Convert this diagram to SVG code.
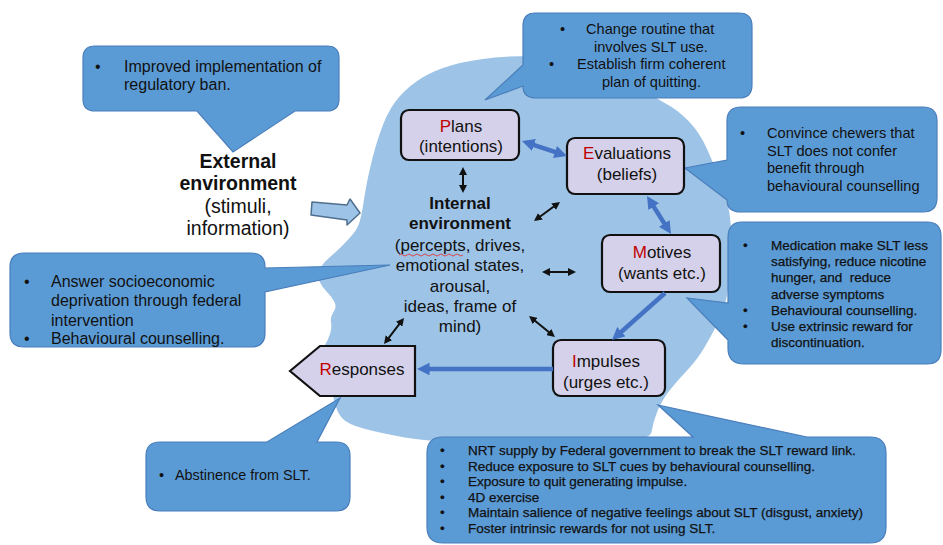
<svg xmlns="http://www.w3.org/2000/svg" width="943" height="545" viewBox="0 0 943 545">
<style>
text{font-family:"Liberation Sans",Arial,sans-serif;fill:#111}
.head{fill:#9DC3E6}
.co{fill:#5B9BD5;stroke:#4A7EBB;stroke-width:1.2}
.node{fill:#D5D1EA;stroke:#111;stroke-width:2.2}
.nt{font-size:17px;text-anchor:middle}
.r{fill:#C00000}
.c16{font-size:16px}
.c146{font-size:14.6px}
.c135{font-size:13.5px;stroke:#111;stroke-width:0.25}
.c144{font-size:14.4px}
.blue{stroke:#4472C4;stroke-width:4.5;fill:none}
.blk{stroke:#111;stroke-width:2;fill:none}
</style>
<defs>
<marker id="bh" viewBox="0 0 10 10" refX="3" refY="5" markerWidth="2.8" markerHeight="2.8" orient="auto-start-reverse"><path d="M0,0 L10,5 L0,10 z" fill="#4472C4"/></marker>
<marker id="kh" viewBox="0 0 10 10" refX="3" refY="5" markerWidth="4" markerHeight="4" orient="auto-start-reverse"><path d="M0,0 L10,5 L0,10 z" fill="#111"/></marker>
</defs>
<rect width="943" height="545" fill="#fff"/>
<g id="head">
<path class="head" d="M360,220.5 Q362,213 364.5,196.5 Q367,180 372,160 Q377,140 383.5,123.5 Q390,107 400,96 Q410,85 422.5,77.5 Q435,70 452.5,65 Q470,60 495,57.5 Q520,55 550,57.5 Q580,60 605,70 Q630,80 642.5,89 Q655,98 666.5,104 Q678,110 689,121.5 Q700,133 707.5,150 Q715,167 721,182 Q727,197 729.5,213.5 Q732,230 731.5,248.5 Q731,267 728.5,286 Q726,305 719.5,319 Q713,333 705,346.5 Q697,360 687,370.5 Q677,381 669.5,390.5 Q662,400 657.5,411 Q653,422 651.5,432 Q650,442 605,443 Q560,444 495,443 Q430,442 405,437.5 Q380,433 363.5,428.5 Q347,424 342,418 Q337,412 335.5,405 Q334,398 329.5,386.5 Q325,375 323.5,362.5 Q322,350 325,345 Q328,340 330,334 Q332,328 331,322.5 Q330,317 333.5,312 Q337,307 334.5,302 Q332,297 327,292 Q322,287 319,280.5 Q316,274 320,268 Q324,262 330,257 Q336,252 342,246 Q348,240 353,234 Q358,228 360,220.5 Z"/>
</g>
<g id="callout-regulatory">
<path class="co" d="M95,46 H327 Q339,46 339,58 V99 Q339,111 327,111 H295 L233,152 L197,111 H95 Q83,111 83,99 V58 Q83,46 95,46 Z"/>
<text class="c16"><tspan x="95" y="72">•</tspan><tspan x="124" y="72">Improved implementation of</tspan><tspan x="124" y="90">regulatory ban.</tspan></text>
</g>
<g id="callout-plans">
<path class="co" d="M535,13 H739 Q752,13 752,26 V85 Q752,98 739,98 H536 Q523,98 523,86 L485,100 L523,65 V26 Q523,13 535,13 Z"/>
<text class="c146"><tspan x="560" y="34">•</tspan><tspan x="586" y="34">Change routine that</tspan><tspan x="594" y="52">involves SLT use.</tspan><tspan x="549" y="69">•</tspan><tspan x="577" y="69">Establish firm coherent</tspan><tspan x="602" y="87">plan of quitting.</tspan></text>
</g>
<g id="callout-evaluations">
<path class="co" d="M741,107 H923 Q937,107 937,121 V198 Q937,212 923,212 H741 Q727,212 727,200 L685,168 L727,160 V121 Q727,107 741,107 Z"/>
<text class="c146"><tspan x="740" y="138">•</tspan><tspan x="767" y="138">Convince chewers that</tspan><tspan x="767" y="156">SLT does not confer</tspan><tspan x="767" y="173">benefit through</tspan><tspan x="767" y="191">behavioural counselling</tspan></text>
</g>
<g id="callout-motives">
<path class="co" d="M742,222 H927 Q941,222 941,236 V350 Q941,364 927,364 H744 Q728,364 728,348 V340 L687,298 L728,303 V238 Q728,222 742,222 Z"/>
<text class="c135" style="white-space:pre"><tspan x="743" y="250">•</tspan><tspan x="771" y="250">Medication make SLT less</tspan><tspan x="771" y="266">satisfying, reduce nicotine</tspan><tspan x="771" y="282">hunger, and  reduce</tspan><tspan x="771" y="298.5">adverse symptoms</tspan><tspan x="743" y="315">•</tspan><tspan x="771" y="315">Behavioural counselling.</tspan><tspan x="743" y="331">•</tspan><tspan x="771" y="331">Use extrinsic reward for</tspan><tspan x="771" y="347">discontinuation.</tspan></text>
</g>
<g id="callout-internal">
<path class="co" d="M24,253 H251 Q265,253 265,267 V268 L390,265 L265,292 V333 Q265,347 251,347 H24 Q10,347 10,333 V267 Q10,253 24,253 Z"/>
<text class="c16"><tspan x="24" y="287">•</tspan><tspan x="51" y="287">Answer socioeconomic</tspan><tspan x="51" y="306">deprivation through federal</tspan><tspan x="51" y="326">intervention</tspan><tspan x="24" y="344">•</tspan><tspan x="51" y="344">Behavioural counselling.</tspan></text>
</g>
<g id="callout-responses">
<path class="co" d="M160,442 H267 L340,398 L317,442 H336 Q350,442 350,456 V497 Q350,511 336,511 H160 Q146,511 146,497 V456 Q146,442 160,442 Z"/>
<text class="c144"><tspan x="159" y="480">•</tspan><tspan x="175" y="480">Abstinence from SLT.</tspan></text>
</g>
<g id="callout-impulses">
<path class="co" d="M443,437 H693 L658,405 L807,437 H870 Q886,437 886,453 V527 Q886,543 870,543 H443 Q427,543 427,527 V453 Q427,437 443,437 Z"/>
<text class="c135"><tspan x="440" y="455">•</tspan><tspan x="468" y="455">NRT supply by Federal government to break the SLT reward link.</tspan><tspan x="440" y="470.5">•</tspan><tspan x="468" y="470.5">Reduce exposure to SLT cues by behavioural counselling.</tspan><tspan x="440" y="486">•</tspan><tspan x="468" y="486">Exposure to quit generating impulse.</tspan><tspan x="440" y="502">•</tspan><tspan x="468" y="502">4D exercise</tspan><tspan x="440" y="517">•</tspan><tspan x="468" y="517">Maintain salience of negative feelings about SLT (disgust, anxiety)</tspan><tspan x="440" y="533">•</tspan><tspan x="468" y="533">Foster intrinsic rewards for not using SLT.</tspan></text>
</g>
<g id="external-environment">
<polygon points="312,202 347,205 350,199 360,213 347,225 347,220 311,215" fill="#9DC3E6" stroke="#4F6F8F" stroke-width="1.5" stroke-linejoin="round"/>
<text style="font-size:19.5px;text-anchor:middle"><tspan x="238" y="168" font-weight="bold">External</tspan><tspan x="238" y="190" font-weight="bold">environment</tspan><tspan x="238" y="213">(stimuli,</tspan><tspan x="238" y="235">information)</tspan></text>
</g>
<g id="internal-environment">
<text style="font-size:17px;text-anchor:middle"><tspan x="460" y="209" font-weight="bold">Internal</tspan><tspan x="460" y="229" font-weight="bold">environment</tspan><tspan x="460" y="251">(percepts, drives,</tspan><tspan x="460" y="271">emotional states,</tspan><tspan x="460" y="291.5">arousal,</tspan><tspan x="460" y="312">ideas, frame of</tspan><tspan x="460" y="332">mind)</tspan></text>
<path d="M399,255 q2,-2 4,0 t4,0 t4,0 t4,0 t4,0 t4,0 t4,0 t4,0 t4,0 t4,0 t4,0 t4,0 t4,0 t4,0 t4,0 t4,0" fill="none" stroke="#E03A3A" stroke-width="0.9"/>
</g>
<g id="plans">
<rect class="node" x="401" y="110" width="118" height="50" rx="8"/>
<text class="nt"><tspan x="461" y="132"><tspan class="r">P</tspan>lans</tspan><tspan x="461" y="152">(intentions)</tspan></text>
</g>
<g id="evaluations">
<rect class="node" x="567" y="138" width="117" height="56" rx="8"/>
<text class="nt"><tspan x="627" y="159"><tspan class="r">E</tspan>valuations</tspan><tspan x="627" y="180">(beliefs)</tspan></text>
</g>
<g id="motives">
<rect class="node" x="602" y="235" width="118" height="57" rx="8"/>
<text class="nt"><tspan x="662" y="258"><tspan class="r">M</tspan>otives</tspan><tspan x="662" y="279">(wants etc.)</tspan></text>
</g>
<g id="impulses">
<rect class="node" x="553" y="340" width="112" height="56" rx="8"/>
<text class="nt"><tspan x="606" y="367"><tspan class="r">I</tspan>mpulses</tspan><tspan x="606" y="388">(urges etc.)</tspan></text>
</g>
<g id="responses">
<polygon class="node" points="290,371 320,346 415,346 415,396 320,396"/>
<text class="nt" x="362" y="375"><tspan class="r">R</tspan>esponses</text>
</g>
<g id="connectors">
<line class="blue" x1="530.4" y1="143.8" x2="558.6" y2="153.2" marker-start="url(#bh)" marker-end="url(#bh)"/>
<line class="blue" x1="651.7" y1="203.4" x2="666.3" y2="226.6" marker-start="url(#bh)" marker-end="url(#bh)"/>
<line class="blue" x1="665" y1="293" x2="618.6" y2="334.2" marker-end="url(#bh)"/>
<line class="blue" x1="553" y1="369" x2="425.8" y2="369" marker-end="url(#bh)"/>
<line class="blk" x1="463" y1="172.6" x2="463" y2="187.4" marker-start="url(#kh)" marker-end="url(#kh)"/>
<line class="blk" x1="538.5" y1="217.7" x2="555.5" y2="205.3" marker-start="url(#kh)" marker-end="url(#kh)"/>
<line class="blk" x1="547.6" y1="272" x2="570.4" y2="272" marker-start="url(#kh)" marker-end="url(#kh)"/>
<line class="blk" x1="533.4" y1="319.5" x2="550.6" y2="333.5" marker-start="url(#kh)" marker-end="url(#kh)"/>
<line class="blk" x1="387.4" y1="339.6" x2="400.6" y2="322.4" marker-start="url(#kh)" marker-end="url(#kh)"/>
</g>
</svg>
